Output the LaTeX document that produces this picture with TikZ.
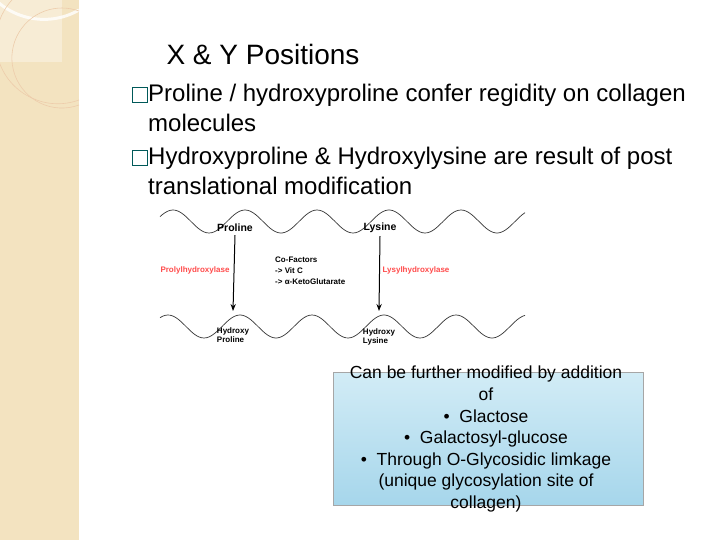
\documentclass[tikz,border=0pt]{standalone}
\usepackage{fontspec}
\setmainfont{Liberation Sans}
\usetikzlibrary{arrows.meta}
\definecolor{beige}{HTML}{F3E3C0}
\definecolor{boxtop}{HTML}{D2ECF6}
\definecolor{boxbot}{HTML}{A6D6EB}
\begin{document}
\begin{tikzpicture}[x=1pt,y=-1pt,
  txt/.style={anchor=west,inner sep=0pt,font=\fontsize{24}{28}\selectfont},
  bul/.style={draw=teal!70!black,line width=1pt,minimum size=15pt,inner sep=0pt},
  lab/.style={font=\bfseries\fontsize{8}{9.5}\selectfont,inner sep=0pt,align=left},
  red/.style={lab,text=red!70!white},
  wave/.style={line width=0.7pt,black!80}]
\useasboundingbox (0,0) rectangle (720,540);
\fill[white] (0,0) rectangle (720,540);
\fill[beige] (0,0) rectangle (79,540);
\fill[white,opacity=0.35] (0,0) rectangle (62,62);
\draw[white,line width=3pt,opacity=0.8] (79,10) arc[start angle=60,end angle=300,radius=70];
\draw[orange!30!brown!40,line width=0.6pt] (79,100) arc[start angle=70,end angle=290,radius=62];
\draw[orange!30!brown!40,line width=0.6pt] (79,105) arc[start angle=70,end angle=290,radius=50];
\node[inner sep=0pt,font=\fontsize{28}{32}\selectfont] (title) at (263,54) {X \& Y Positions};
\node[bul] (b1) at (140,95) {};
\node[txt] (t1) at (148,95) {Proline / hydroxyproline confer regidity on collagen};
\node[txt] (t1b) at (148,123) {molecules};
\node[bul] (b2) at (140,158) {};
\node[txt] (t2) at (148,158) {Hydroxyproline \& Hydroxylysine are result of post};
\node[txt] (t2b) at (148,186) {translational modification};
\draw[wave] plot[domain=160:525,samples=150] (\x,{221.5-11.5*sin((\x-155)*5)});
\draw[wave] plot[domain=160:525,samples=150] (\x,{326.5-11.5*sin((\x-150)*5)});
\node[lab,font=\bfseries\fontsize{10.5}{12}\selectfont] (pro) at (235,228) {Proline};
\node[lab,font=\bfseries\fontsize{10.5}{12}\selectfont] (lys) at (380,228) {Lysine};
\node[red] (ph) at (195,270) {Prolylhydroxylase};
\node[red] (lh) at (416,270) {Lysylhydroxylase};
\node[lab,anchor=west,font=\bfseries\fontsize{8}{11}\selectfont] (cf) at (275,271) {Co-Factors\\-> Vit C\\-> α-KetoGlutarate};
\node[lab] (hp) at (233,335) {Hydroxy\\Proline};
\node[lab] (hl) at (379,337) {Hydroxy\\Lysine};
\draw[-{Stealth[length=7pt]},line width=1pt] (pro.south) ++(0,3) coordinate (p1) -- (233,311) coordinate (p2);
\draw[-{Stealth[length=7pt]},line width=1pt] (lys.south) ++(0,3) coordinate (l1) -- (379,311) coordinate (l2);
\node[draw=gray!70,line width=0.8pt,top color=boxtop,bottom color=boxbot,
  minimum width=310pt,minimum height=133pt,anchor=north west,inner sep=0pt] (box) at (333,372) {};
\node[align=center,anchor=north,inner sep=0pt,font=\fontsize{17.5}{21.6}\selectfont] (bt) at (486,366)
 {Can be further modified by addition\\of\\\textbullet\ \ Glactose\\\textbullet\ \ Galactosyl-glucose\\\textbullet\ \ Through O-Glycosidic limkage\\(unique glycosylation site of\\collagen)};
\end{tikzpicture}
\end{document}
